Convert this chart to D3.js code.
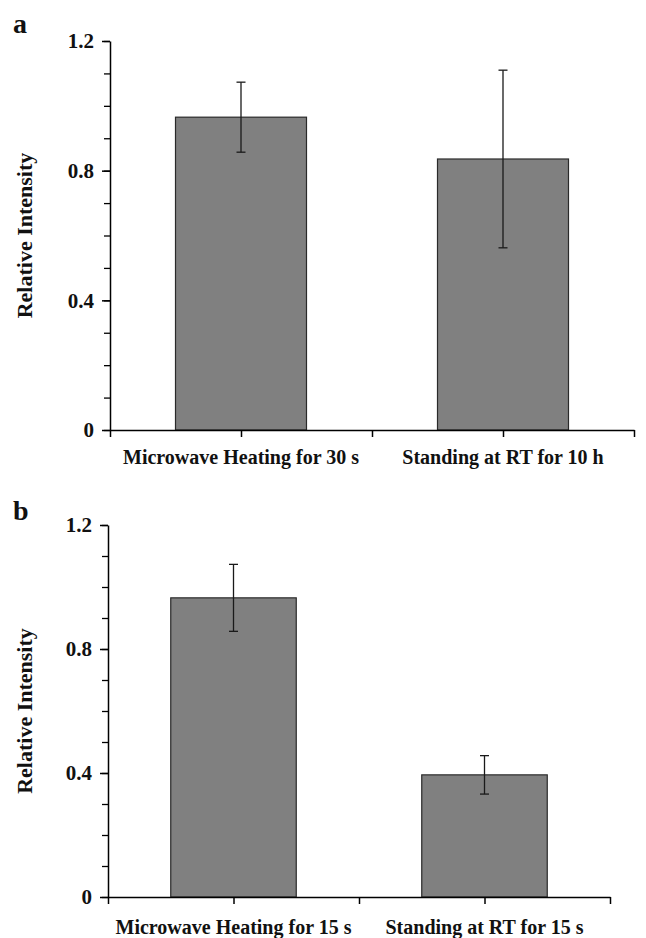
<!DOCTYPE html>
<html>
<head>
<meta charset="utf-8">
<script src="https://cdn.jsdelivr.net/npm/d3@7"></script>
<style>
  body { margin: 0; background: #fff; }
  svg { display: block; font-family: "Liberation Serif", "Times New Roman", serif; font-weight: bold; }
</style>
</head>
<body>
<svg id="chart" width="646" height="938"></svg>
<script>
// values
const categoriesA = ['Microwave Heating for 30 s', 'Standing at RT for 10 h'];
const meansA = [0.965, 0.836];
const errorsA = [0.108, 0.274];

const categoriesB = ['Microwave Heating for 15 s', 'Standing at RT for 15 s'];
const meansB = [0.965, 0.394];
const errorsB = [0.108, 0.062];

const majorTicks = [0, 0.4, 0.8, 1.2];
const tickLabels = ['0', '0.4', '0.8', '1.2'];
const minorTicks = d3.range(0, 1.21, 0.1);

const svg = d3.select('#chart');

// panel frames in pixels
const panels = [
  { letter: 'a', cats: categoriesA, means: meansA, errs: errorsA, left: 110, right: 634, top: 41, bottom: 430, letterY: 33, labelY: 464 },
  { letter: 'b', cats: categoriesB, means: meansB, errs: errorsB, left: 108, right: 610, top: 525, bottom: 897, letterY: 520, labelY: 934 }
];

panels.forEach(p => {
  const g = svg.append('g');

  const y = d3.scaleLinear().domain([0, 1.2]).range([p.bottom, p.top]);
  const x = d3.scaleBand().domain(p.cats).range([p.left, p.right]).paddingInner(0.5).paddingOuter(0.25);
  const xOuter = d3.scaleBand().domain(p.cats).range([p.left, p.right]);

  // bars
  const data = p.cats.map((c, i) => ({ cat: c, v: p.means[i], e: p.errs[i] }));
  g.selectAll('rect.bar')
    .data(data)
    .enter()
    .append('rect')
    .attr('x', d => x(d.cat))
    .attr('y', d => y(d.v))
    .attr('width', x.bandwidth())
    .attr('height', d => y(0) - y(d.v))
    .attr('fill', '#808080')
    .attr('stroke', '#2a2a2a')
    .attr('stroke-width', 1.2);

  // error bars
  const cx = d => x(d.cat) + x.bandwidth() / 2;
  const eb = g.selectAll('g.err').data(data).enter().append('g')
    .attr('stroke', '#1a1a1a').attr('stroke-width', 1.3);
  eb.append('line').attr('x1', cx).attr('x2', cx)
    .attr('y1', d => y(d.v + d.e)).attr('y2', d => y(d.v - d.e));
  eb.append('line').attr('x1', d => cx(d) - 4.5).attr('x2', d => cx(d) + 4.5)
    .attr('y1', d => y(d.v + d.e)).attr('y2', d => y(d.v + d.e));
  eb.append('line').attr('x1', d => cx(d) - 4.5).attr('x2', d => cx(d) + 4.5)
    .attr('y1', d => y(d.v - d.e)).attr('y2', d => y(d.v - d.e));

  // y axis: minor ticks then major with labels
  g.append('g')
    .attr('transform', `translate(${p.left},0)`)
    .call(d3.axisLeft(y).tickValues(minorTicks).tickSize(6).tickFormat(''))
    .call(a => a.select('.domain').remove())
    .selectAll('line').attr('stroke', '#000').attr('stroke-width', 1.3);

  const yAxis = g.append('g')
    .attr('transform', `translate(${p.left},0)`)
    .call(d3.axisLeft(y).tickValues(majorTicks).tickSize(8).tickSizeOuter(0)
      .tickFormat((d, i) => tickLabels[i]).tickPadding(8));
  yAxis.select('.domain').attr('stroke', '#000').attr('stroke-width', 1.5);
  yAxis.selectAll('line').attr('stroke', '#000').attr('stroke-width', 1.5);
  yAxis.selectAll('text')
    .attr('font-family', '"Liberation Serif", serif')
    .attr('font-weight', 'bold')
    .attr('font-size', 21)
    .attr('fill', '#111');

  // x axis: ticks at category centres and boundaries
  const xTicks = [p.left, ...p.cats.map(c => xOuter(c) + xOuter.bandwidth() / 2), ...p.cats.map(c => xOuter(c) + xOuter.bandwidth())];
  const xLin = d3.scaleLinear().domain([p.left, p.right]).range([p.left, p.right]);
  const xAxis = g.append('g')
    .attr('transform', `translate(0,${p.bottom})`)
    .call(d3.axisBottom(xLin).tickValues(xTicks).tickSize(7).tickSizeOuter(0).tickFormat(''));
  xAxis.select('.domain').attr('stroke', '#000').attr('stroke-width', 1.5);
  xAxis.selectAll('line').attr('stroke', '#000').attr('stroke-width', 1.5);

  // category labels
  g.selectAll('text.cat')
    .data(p.cats)
    .enter()
    .append('text')
    .attr('x', c => xOuter(c) + xOuter.bandwidth() / 2)
    .attr('y', p.labelY)
    .attr('text-anchor', 'middle')
    .attr('font-size', 20)
    .attr('fill', '#111')
    .text(c => c);

  // y axis title
  g.append('text')
    .attr('transform', `translate(32, ${(p.top + p.bottom) / 2}) rotate(-90)`)
    .attr('text-anchor', 'middle')
    .attr('font-size', 22)
    .attr('fill', '#111')
    .text('Relative Intensity');

  // panel letter
  g.append('text')
    .attr('x', 13)
    .attr('y', p.letterY)
    .attr('font-size', 28)
    .attr('fill', '#111')
    .text(p.letter);
});
</script>
</body>
</html>
